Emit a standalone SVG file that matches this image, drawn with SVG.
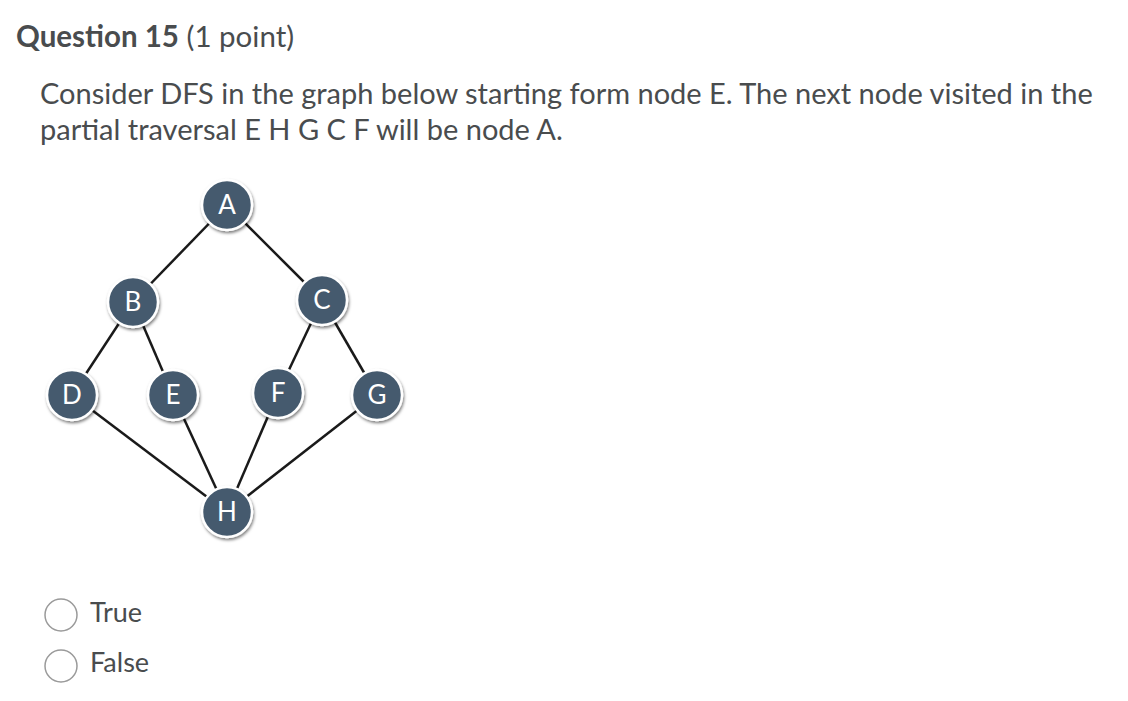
<svg xmlns="http://www.w3.org/2000/svg" width="1128" height="701" viewBox="0 0 1128 701">
<style>
text{font-family:Lato,"Liberation Sans",sans-serif}
.t{font-size:29px;fill:#494c4e}
.n circle{fill:#455a6e;stroke:#fff;stroke-width:2.5;filter:url(#sh)}
.n text{font-size:26px;fill:#fff;text-anchor:middle}
.e line{stroke:#1a1a1a;stroke-width:2.5}
.r{fill:#fff;stroke:#9a9a9a;stroke-width:1.5}
</style>
<defs><filter id="sh" x="-30%" y="-30%" width="160%" height="160%"><feDropShadow dx="1" dy="2" stdDeviation="1.5" flood-color="#000" flood-opacity="0.5"/></filter></defs>
<rect width="1128" height="701" fill="#fff"/>
<text x="16" y="47" style="font-size:29.5px;fill:#494c4e"><tspan font-weight="bold">Question 15</tspan> (1 point)</text>
<text class="t" x="40" y="104">Consider DFS in the graph below starting form node E. The next node visited in the</text>
<text class="t" x="40" y="140">partial traversal E H G C F will be node A.</text>
<g class="e">
<line x1="227" y1="205" x2="133" y2="302"/><line x1="227" y1="205" x2="322" y2="300"/>
<line x1="133" y1="302" x2="72" y2="395"/><line x1="133" y1="302" x2="173" y2="395"/>
<line x1="322" y1="300" x2="278" y2="393"/><line x1="322" y1="300" x2="377" y2="395"/>
<line x1="72" y1="395" x2="227" y2="512"/><line x1="173" y1="395" x2="227" y2="512"/>
<line x1="278" y1="393" x2="227" y2="512"/><line x1="377" y1="395" x2="227" y2="512"/>
</g>
<g id="A" class="n"><circle cx="227" cy="205" r="25"/><text x="227" y="214">A</text></g>
<g id="B" class="n"><circle cx="133" cy="302" r="25"/><text x="133" y="311">B</text></g>
<g id="C" class="n"><circle cx="322" cy="300" r="25"/><text x="322" y="309">C</text></g>
<g id="D" class="n"><circle cx="72" cy="395" r="25"/><text x="72" y="404">D</text></g>
<g id="E" class="n"><circle cx="173" cy="395" r="25"/><text x="173" y="404">E</text></g>
<g id="F" class="n"><circle cx="278" cy="393" r="25"/><text x="278" y="402">F</text></g>
<g id="G" class="n"><circle cx="377" cy="395" r="25"/><text x="377" y="404">G</text></g>
<g id="H" class="n"><circle cx="227" cy="512" r="25"/><text x="227" y="521">H</text></g>
<circle class="r" cx="61" cy="615" r="16"/>
<text class="t" x="90" y="622" style="font-size:27px">True</text>
<circle class="r" cx="61" cy="666" r="16"/>
<text class="t" x="90" y="672" style="font-size:27px">False</text>
</svg>
